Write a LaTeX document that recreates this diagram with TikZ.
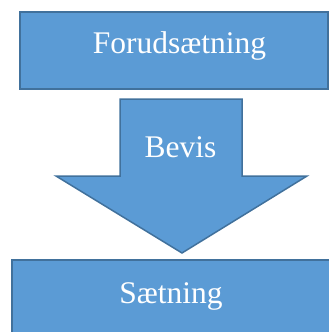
\documentclass[tikz,border=0pt]{standalone}
\usepackage{fontspec}
\setmainfont{Liberation Serif}
\begin{document}
\begin{tikzpicture}[x=1pt,y=-1pt,
  blok/.style={fill=boxfill,draw=boxline,line width=1.5pt},
  lbl/.style={text=white,font=\fontsize{31.5}{38}\selectfont,inner sep=0pt,anchor=base}]
\definecolor{boxfill}{HTML}{5B9BD5}
\definecolor{boxline}{HTML}{41719C}
\useasboundingbox (0,0) rectangle (329,332);
\begin{scope}
\clip (0,0) rectangle (329,332);
\draw[blok] (20,12) rectangle (328,89);
\draw[blok] (120,99) -- (242,99) -- (242,176) -- (307,176) -- (182,253) -- (56,176) -- (120,176) -- cycle;
\draw[blok] (12,260) rectangle (335,340);
\end{scope}
\node[lbl] (top) at (179.5,53) {Forudsætning};
\node[lbl] (mid) at (180.5,157) {Bevis};
\node[lbl] (bot) at (171,303) {Sætning};
\end{tikzpicture}
\end{document}
